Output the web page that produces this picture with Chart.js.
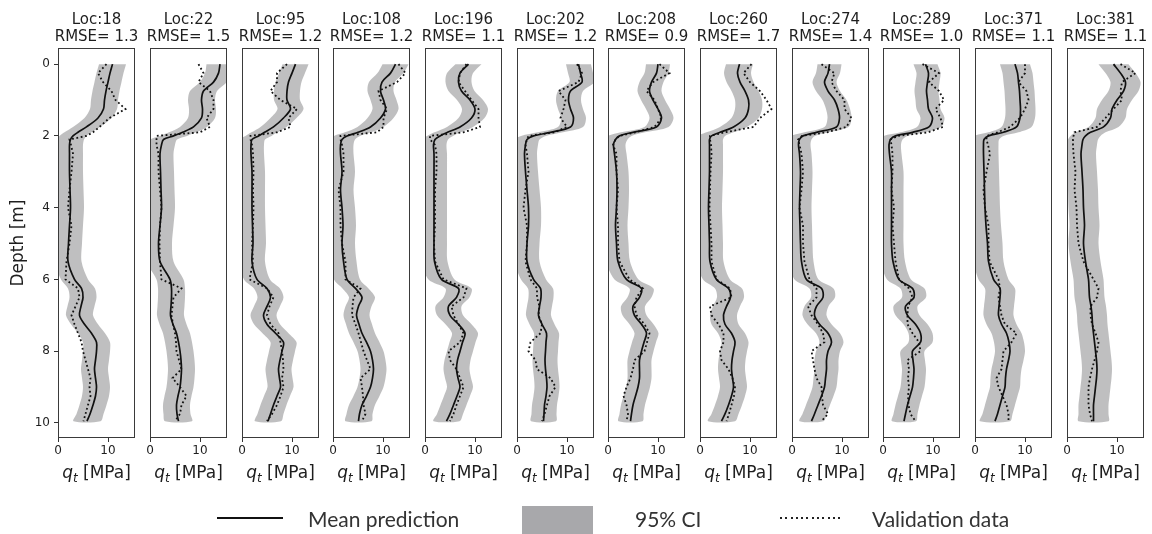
<!DOCTYPE html>
<html>
<head>
<meta charset="utf-8">
<script src="https://cdn.jsdelivr.net/npm/chart.js@4.4.1/dist/chart.umd.min.js"></script>
<style>
  html, body { margin: 0; padding: 0; background: #fff; }
  #wrap { position: relative; width: 1152px; height: 534px; overflow: hidden; }
  #wrap canvas { position: absolute; top: 0; }
  .lg { position: absolute; font: 21px/21px Lato, "Open Sans", sans-serif; color: #333; white-space: nowrap; }
</style>
</head>
<body>
<div id="wrap"></div>
<script>
// depth grid shared by all profiles [m]
const DEPTH = [0, 0.25, 0.5, 0.75, 1, 1.25, 1.5, 1.75, 1.9, 2, 2.1, 2.25, 2.5, 3, 3.5, 4, 4.5, 5, 5.5, 6,
               6.25, 6.5, 6.75, 7, 7.25, 7.5, 7.75, 8, 8.25, 8.5, 8.75, 9, 9.25, 9.5, 9.75, 9.95];

const LOCS = [18, 22, 95, 108, 196, 202, 208, 260, 274, 289, 371, 381];
const RMSE = ["1.3", "1.5", "1.2", "1.2", "1.1", "1.2", "0.9", "1.7", "1.4", "1.0", "1.1", "1.1"];
// half width of the 95% band per location [MPa]
const CI_HALF = [2.7, 2.7, 2.6, 2.6, 2.6, 2.5, 2.4, 2.7, 2.4, 2.4, 3.0, 3.0];

const X_TICKS = [0, 10];
const Y_TICKS = [0, 2, 4, 6, 8, 10];

/* ============ qt profiles (mean prediction / validation) ============ */
const mean18 = [10.9,10.4,10.0,9.6,9.3,9.1,8.0,5.7,4.0,3.0,2.5,2.3,2.3,2.3,2.4,2.5,2.3,2.1,2.0,3.3,4.7,5.0,4.6,4.3,5.3,6.7,7.7,7.7,7.5,7.3,7.5,7.7,7.5,7.0,6.4,5.8];
const val18  = [9.7,8.0,9.0,10.7,11.5,13.5,10.3,8.3,7.0,5.7,2.3,2.6,3.0,2.7,2.3,2.0,2.7,2.3,1.7,1.5,4.0,4.3,3.5,2.7,3.3,4.0,4.7,5.0,5.5,6.0,6.5,6.3,6.5,6.0,5.5,5.1];
const mean22 = [14.0,13.7,12.7,10.7,10.3,10.5,10.3,8.7,6.5,4.7,2.7,2.3,2.0,2.1,2.2,2.3,2.0,1.7,2.0,4.0,4.3,4.3,4.2,4.1,4.6,5.3,5.7,6.0,6.2,6.3,6.2,6.0,5.6,5.3,5.4,5.7];
const val22  = [9.7,10.7,9.7,12.0,12.7,12.7,11.3,12.0,10.0,1.3,1.3,1.3,1.7,1.7,2.0,2.3,2.0,1.9,2.0,2.3,6.3,4.7,4.5,4.3,4.6,5.0,5.2,5.3,5.8,6.3,4.5,6.0,7.3,6.3,6.0,5.0];
const mean95 = [10.7,10.0,9.3,9.0,9.0,9.7,8.3,6.3,4.5,3.3,2.0,1.8,1.8,2.0,2.0,2.0,2.1,2.2,2.0,3.0,5.0,5.7,5.0,4.3,5.0,6.7,8.3,8.0,7.6,7.3,7.5,7.7,7.0,6.3,5.7,5.2];
const val95  = [9.0,7.0,7.0,5.7,7.7,11.0,9.3,9.7,7.0,1.7,1.7,2.0,2.2,2.3,2.2,2.3,2.2,2.0,2.2,1.5,5.0,6.3,5.5,5.0,5.7,7.3,7.7,8.0,8.2,8.3,8.0,8.3,7.7,7.0,6.0,5.0];
const mean108 = [12.5,11.5,9.8,9.5,10.1,10.5,9.5,7.5,5.0,2.8,1.8,1.5,1.5,1.8,1.5,1.8,2.0,1.8,2.1,2.8,4.5,5.8,5.1,4.7,5.2,5.8,6.7,7.5,7.9,8.1,7.9,7.5,6.7,5.8,5.3,5.1];
const val108  = [13.1,14.5,12.8,9.1,9.5,10.8,10.1,10.1,8.8,1.5,1.5,1.8,2.1,2.1,1.1,1.5,1.5,1.8,2.5,2.5,5.5,4.1,3.9,3.8,4.5,5.1,5.6,6.1,6.8,7.5,5.5,5.8,6.0,6.1,6.5,5.8];
const mean196 = [8.7,7.0,6.7,7.3,9.0,10.0,9.3,7.0,4.5,3.0,2.0,1.7,1.8,1.8,1.8,1.8,1.8,1.8,1.9,3.3,6.7,6.3,4.7,5.0,6.7,8.0,7.5,7.0,6.5,6.3,6.6,7.0,6.4,5.7,5.0,4.3];
const val196  = [8.3,7.0,6.7,8.0,9.3,10.7,10.7,11.0,7.7,1.0,1.0,2.0,2.3,2.3,2.0,2.0,2.0,1.8,2.0,3.7,8.3,7.7,5.3,5.7,6.7,7.7,7.0,4.7,5.0,6.3,7.0,7.7,7.0,6.3,5.7,5.0];
const mean202 = [12.3,12.7,13.0,10.7,10.3,10.7,11.3,10.7,6.7,3.3,2.0,1.7,1.5,1.7,2.0,2.3,2.3,2.0,2.0,3.3,4.7,4.8,4.5,4.3,5.0,5.9,5.8,5.7,5.6,5.7,5.9,6.0,5.8,5.5,5.4,5.3];
const val202  = [12.0,13.0,12.3,8.3,9.7,9.3,8.7,10.0,7.5,2.3,2.0,1.7,2.0,2.3,1.7,1.3,2.0,2.0,1.7,2.7,4.0,4.0,4.5,4.3,5.0,4.7,2.7,2.3,3.7,4.0,6.7,7.7,6.5,6.0,5.5,5.0];
const mean208 = [10.0,9.7,8.7,8.3,9.0,10.0,10.7,9.7,5.0,2.3,1.5,1.1,1.3,1.7,1.8,1.7,1.5,1.7,2.0,3.7,6.7,6.3,5.0,5.3,6.7,7.7,7.2,6.7,6.3,6.3,6.3,6.0,5.5,5.0,4.7,4.5];
const val208  = [10.3,12.3,9.0,7.7,9.3,10.0,10.7,9.3,5.5,2.3,1.5,1.0,1.7,1.7,2.0,1.7,2.0,2.0,2.3,4.3,7.0,5.7,5.3,5.7,7.3,8.3,7.8,7.3,5.3,5.0,4.5,3.7,3.1,3.7,4.0,3.7];
const mean260 = [7.9,7.5,8.0,9.0,9.7,9.7,9.0,6.7,4.0,2.3,1.9,1.9,1.9,1.9,1.8,1.7,1.8,1.9,2.0,3.3,5.7,6.1,5.3,4.7,5.0,6.3,7.0,6.7,6.4,6.3,6.5,6.7,6.3,5.7,5.0,4.3];
const val260  = [10.3,8.7,10.0,12.0,13.3,14.3,12.0,10.7,5.0,2.0,2.0,2.2,2.3,2.1,2.0,1.9,2.1,2.3,2.3,3.3,6.0,6.3,2.0,2.3,3.7,4.7,4.7,4.0,4.3,5.7,6.5,7.0,6.8,6.3,5.8,5.3];
const mean274 = [7.5,7.2,6.5,7.2,8.5,9.2,9.5,8.9,4.9,2.2,1.5,1.3,1.5,1.7,1.6,1.5,1.6,1.7,1.9,2.9,5.9,6.2,4.9,4.5,5.5,7.2,7.9,7.2,6.9,6.9,6.7,6.5,5.9,5.2,4.5,3.9];
const val274  = [5.9,8.5,7.9,8.9,10.5,10.5,11.9,10.9,7.0,2.0,1.2,1.5,1.9,2.2,1.9,1.5,2.2,2.2,2.5,3.5,4.9,4.9,3.2,3.9,5.2,6.2,6.5,3.9,4.2,4.5,4.9,5.9,6.0,6.2,7.2,5.9];
const mean289 = [8.5,9.1,8.9,8.7,8.9,9.1,9.9,9.2,5.9,2.5,1.5,1.2,1.3,1.7,1.7,1.7,1.7,1.7,2.0,3.2,5.9,6.2,4.5,4.9,6.5,7.5,7.5,5.9,6.0,6.2,6.1,5.9,5.4,4.9,4.5,4.2];
const val289  = [7.9,11.2,9.2,11.2,12.2,10.5,11.5,12.0,9.0,3.0,1.5,1.7,1.9,1.9,1.7,2.2,1.9,2.2,2.5,3.2,5.2,5.9,5.0,4.9,4.9,5.9,7.2,7.5,4.9,5.2,5.0,5.2,5.0,5.1,5.5,6.5];
const mean371 = [8.0,8.5,8.7,8.9,9.0,9.1,9.0,8.3,5.7,2.7,1.8,1.7,1.7,1.8,1.9,2.0,2.2,2.5,2.7,3.7,5.0,5.0,4.8,4.7,5.3,6.3,6.8,7.0,6.7,6.3,6.1,6.0,5.5,5.0,4.5,4.0];
const val371  = [10.0,10.0,8.7,10.3,10.7,10.0,9.0,7.0,4.5,2.3,2.3,2.6,3.0,2.3,1.7,2.0,2.7,2.7,2.9,4.7,5.0,4.7,5.0,5.3,6.0,8.3,7.3,5.7,5.5,5.3,4.3,4.7,5.5,6.3,6.7,6.7];
const mean381 = [9.3,10.7,11.7,11.3,10.0,9.0,8.7,7.3,4.7,3.7,3.2,3.0,2.8,3.0,3.2,3.3,3.5,3.3,3.7,4.3,4.4,4.5,4.8,5.0,5.1,5.3,5.5,5.7,5.9,6.0,5.9,5.7,5.5,5.3,5.3,5.3];
const val381  = [10.7,13.7,11.0,10.7,11.0,9.3,7.7,6.0,1.5,1.3,1.2,1.2,1.3,1.7,1.5,1.9,2.0,2.3,3.3,5.3,6.3,6.0,4.7,4.7,5.0,5.7,6.3,6.0,5.5,5.0,4.6,4.3,4.3,4.3,4.6,5.0];

const MEANS = [mean18, mean22, mean95, mean108, mean196, mean202, mean208, mean260, mean274, mean289, mean371, mean381];
const VALID = [val18, val22, val95, val108, val196, val202, val208, val260, val274, val289, val371, val381];

/* ============ Layout ============ */
const PLOT_W = 77, SIDE = 58, PLOT_BOTTOM = 438, CANVAS_H = 490;
const FIRST_LEFT = 58.3, PANEL_STEP = 91.67;
const FONT = "'DejaVu Sans', sans-serif";
const INK = "#1e1e1e";

// box around each axes
const framePlugin = {
    id: "frame",
    afterDraw(chart) {
        const {ctx, chartArea: a} = chart;
        ctx.save();
        ctx.strokeStyle = "#3a3a3a";
        ctx.lineWidth = 1;
        ctx.strokeRect(a.left + 0.5, a.top + 0.5, a.width - 1, a.height - 1);
        ctx.restore();
    }
};

// x label with italic q and subscript t
const qtLabel = {
    id: "qtLabel",
    afterDraw(chart) {
        const {ctx, chartArea: a} = chart;
        const cx = (a.left + a.right) / 2, base = 478;
        const ital = "italic 17px " + FONT, sub = "italic 12px " + FONT, reg = "17px " + FONT;
        ctx.save();
        ctx.fillStyle = INK;
        ctx.textAlign = "left";
        ctx.textBaseline = "alphabetic";
        ctx.font = ital; const wq = ctx.measureText("q").width;
        ctx.font = sub; const wt = ctx.measureText("t").width;
        ctx.font = reg; const wr = ctx.measureText(" [MPa]").width;
        let x = cx - (wq + wt + wr) / 2;
        ctx.font = ital; ctx.fillText("q", x, base); x += wq;
        ctx.font = sub; ctx.fillText("t", x, base + 3.5); x += wt;
        ctx.font = reg; ctx.fillText(" [MPa]", x, base);
        ctx.restore();
    }
};

const wrap = document.getElementById("wrap");

LOCS.forEach((loc, i) => {
    const first = i === 0;
    const plotLeft = Math.round(FIRST_LEFT + i * PANEL_STEP);
    const canvas = document.createElement("canvas");
    canvas.width = PLOT_W + 2 * SIDE;
    canvas.height = CANVAS_H;
    canvas.style.left = (plotLeft - SIDE) + "px";
    wrap.appendChild(canvas);

    const m = MEANS[i], hw = CI_HALF[i];
    const lower = DEPTH.map((d, k) => ({x: m[k] - hw, y: d}));
    const upper = DEPTH.map((d, k) => ({x: m[k] + hw, y: d})).reverse();

    new Chart(canvas, {
        type: "line",
        data: {
            datasets: [
                {
                    label: "95% CI",
                    data: lower.concat(upper),
                    fill: "shape",
                    backgroundColor: "rgba(128,128,130,0.5)",
                    borderWidth: 0,
                    pointRadius: 0,
                    tension: 0.3,
                    capBezierPoints: false,
                    order: 3
                },
                {
                    label: "Validation data",
                    data: DEPTH.map((d, k) => ({x: VALID[i][k], y: d})),
                    borderColor: "#111",
                    borderWidth: 1.8,
                    borderDash: [1.8, 2.6],
                    borderCapStyle: "butt",
                    pointRadius: 0,
                    fill: false,
                    tension: 0,
                    order: 2
                },
                {
                    label: "Mean prediction",
                    data: DEPTH.map((d, k) => ({x: m[k], y: d})),
                    borderColor: "#111",
                    borderWidth: 1.7,
                    pointRadius: 0,
                    fill: false,
                    tension: 0.3,
                    order: 1
                }
            ]
        },
        options: {
            responsive: false,
            animation: false,
            events: [],
            layout: {padding: 0},
            plugins: {
                legend: {display: false},
                tooltip: {enabled: false},
                title: {
                    display: true,
                    text: ["Loc:" + loc, "RMSE= " + RMSE[i]],
                    font: {family: FONT, size: 15, weight: "normal", lineHeight: 1.1},
                    color: INK,
                    padding: {top: 12, bottom: 3}
                }
            },
            scales: {
                x: {
                    type: "linear",
                    min: 0,
                    max: 15.4,
                    afterBuildTicks: s => { s.ticks = X_TICKS.map(v => ({value: v})); },
                    ticks: {font: {family: FONT, size: 12}, color: INK, padding: 2, maxRotation: 0},
                    grid: {display: true, drawOnChartArea: false, drawTicks: true, tickLength: 4, color: "#333"},
                    border: {display: false},
                    afterFit: s => { s.height = CANVAS_H - PLOT_BOTTOM; }
                },
                y: {
                    type: "linear",
                    reverse: true,
                    min: -0.45,
                    max: 10.42,
                    afterBuildTicks: s => { s.ticks = Y_TICKS.map(v => ({value: v})); },
                    ticks: {display: first, font: {family: FONT, size: 12}, color: INK, padding: 4},
                    grid: {display: first, drawOnChartArea: false, drawTicks: true, tickLength: 4, color: "#333"},
                    border: {display: false},
                    title: {
                        display: first,
                        text: "Depth [m]",
                        font: {family: FONT, size: 17},
                        color: INK,
                        padding: {top: 8, bottom: 0}
                    },
                    afterFit: s => { s.width = SIDE; }
                },
                yR: {
                    type: "linear",
                    position: "right",
                    ticks: {display: false},
                    grid: {display: false},
                    border: {display: false},
                    afterFit: s => { s.width = SIDE; }
                }
            }
        },
        plugins: [framePlugin, qtLabel]
    });
});

/* ============ Legend ============ */
function addLegend(html, style) {
    const el = document.createElement("div");
    el.className = "lg";
    el.innerHTML = html;
    Object.assign(el.style, style);
    wrap.appendChild(el);
}
addLegend("", {left: "217px", top: "517px", width: "66px", height: "2px", background: "#111"});
addLegend("Mean prediction", {left: "308px", top: "508px"});
addLegend("", {left: "522px", top: "506px", width: "71px", height: "28px", background: "#a8a8ab"});
addLegend("95% CI", {left: "635px", top: "508px"});
addLegend("", {left: "780px", top: "517px", width: "64px", height: "2px",
    background: "repeating-linear-gradient(90deg, #222 0 2px, transparent 2px 5.3px)"});
addLegend("Validation data", {left: "872px", top: "508px"});
</script>
</body>
</html>
